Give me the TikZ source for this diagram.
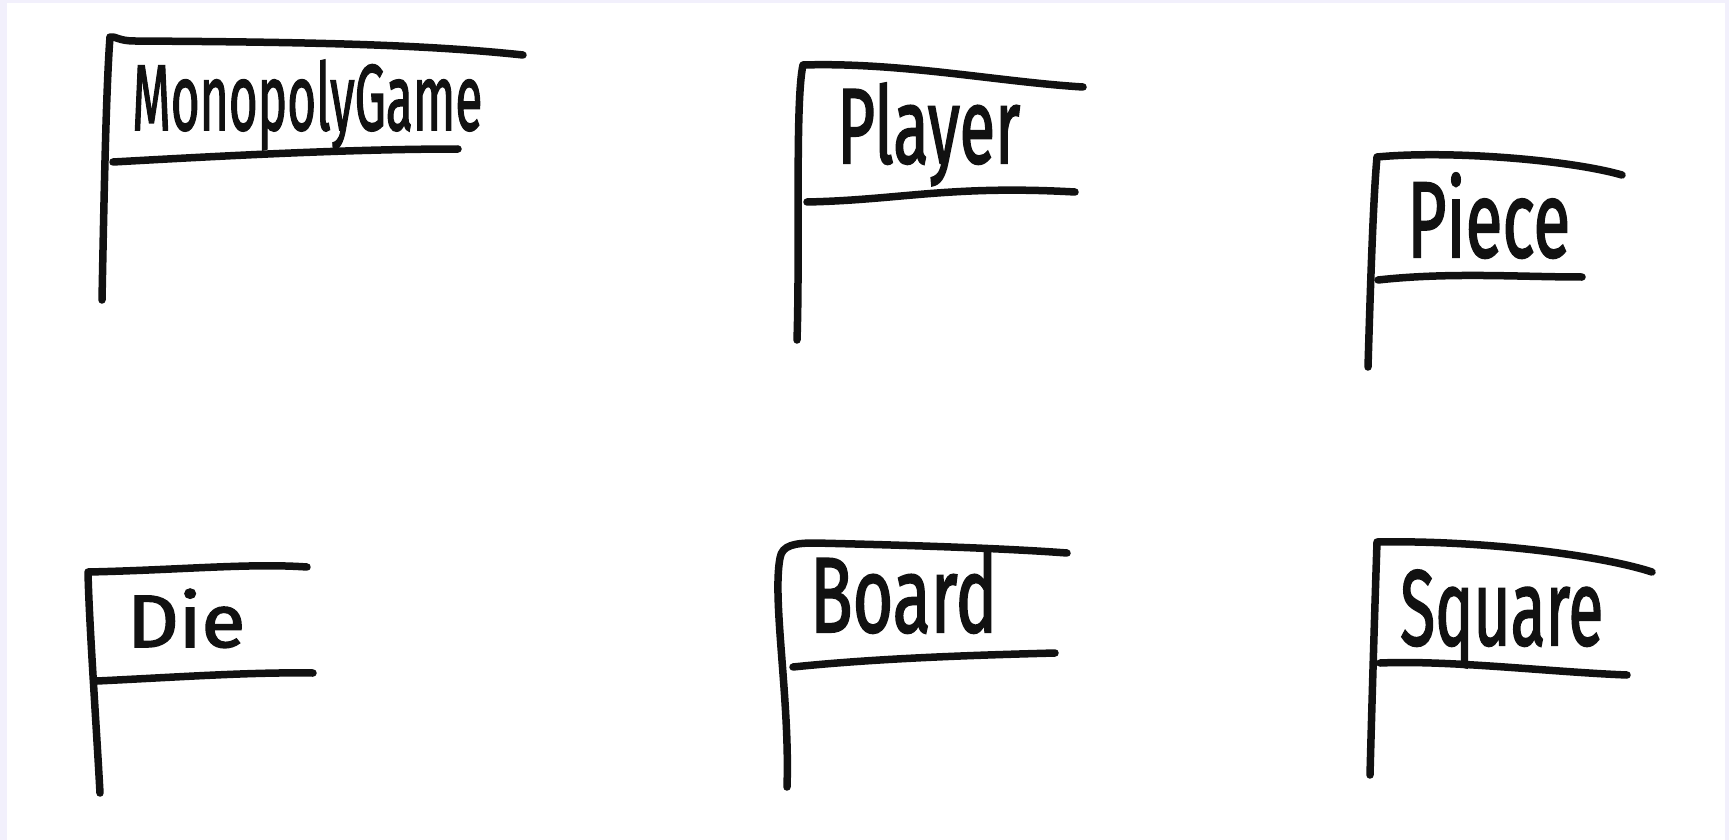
\documentclass[tikz,border=0pt]{standalone}
\usepackage{fontspec}
\setmainfont{Fira Sans}
\newfontfamily\hand[FakeBold=2]{Fira Sans}
\usepackage{graphicx}
\definecolor{frame}{HTML}{F2F0FC}
\definecolor{ink}{HTML}{111111}
\tikzset{
  pen/.style={draw=ink, line width=7.5pt, line cap=round, line join=round},
  lbl/.style={anchor=base west, inner sep=0pt, text=ink, font=\hand}
}
\newcommand{\hw}[3]{\resizebox{#1pt}{#2pt}{#3}}
\begin{document}
\begin{tikzpicture}[x=1pt,y=-1pt]
\useasboundingbox (0,0) rectangle (1729,840);
\fill[frame] (0,0) rectangle (1729,840);
\fill[white] (7,3) rectangle (1725,840);

% MonopolyGame
\draw[pen] (102,300) .. controls (104,200) and (106,90) .. (110,37)
  .. controls (116,36) and (118,41) .. (135,41)
  .. controls (300,42) and (420,44) .. (523,55);
\draw[pen] (113,162) .. controls (220,156) and (350,149) .. (458,149);
\node[lbl] (tmono) at (132,130) {\hw{350}{70}{MonopolyGame}};

% Player
\draw[pen] (797,340) .. controls (800,250) and (795,100) .. (803,65)
  .. controls (900,62) and (1000,82) .. (1083,87);
\draw[pen] (807,202) .. controls (900,200) and (950,185) .. (1075,192);
\node[lbl] (tplayer) at (837,163) {\hw{183}{80}{Player}};

% Piece
\draw[pen] (1368,367) .. controls (1370,300) and (1373,200) .. (1377,157)
  .. controls (1450,150) and (1570,160) .. (1622,175);
\draw[pen] (1378,280) .. controls (1450,272) and (1520,277) .. (1582,277);
\node[lbl] (tpiece) at (1407,257) {\hw{163}{84}{Piece}};

% Die
\draw[pen] (100,793) .. controls (96,720) and (89,620) .. (88,572)
  .. controls (180,570) and (250,563) .. (307,567);
\draw[pen] (97,681) .. controls (180,677) and (250,672) .. (313,673);
\node[lbl] (tdie) at (127,647) {\hw{118}{58}{Die}};

% Board
\draw[pen] (787,787) .. controls (790,700) and (772,600) .. (780,558)
  .. controls (782,545) and (795,543) .. (815,543)
  .. controls (900,545) and (1000,548) .. (1067,553);
\draw[pen] (793,667) .. controls (880,658) and (980,655) .. (1055,653);
\node[lbl] (tboard) at (810,632) {\hw{187}{80}{Board}};

% Square
\draw[pen] (1370,775) .. controls (1372,700) and (1375,600) .. (1377,542)
  .. controls (1480,540) and (1600,555) .. (1652,572);
\draw[pen] (1380,663) .. controls (1450,660) and (1550,672) .. (1627,675);
\node[lbl] (tsquare) at (1400,645) {\hw{203}{75}{Square}};
\end{tikzpicture}
\end{document}
